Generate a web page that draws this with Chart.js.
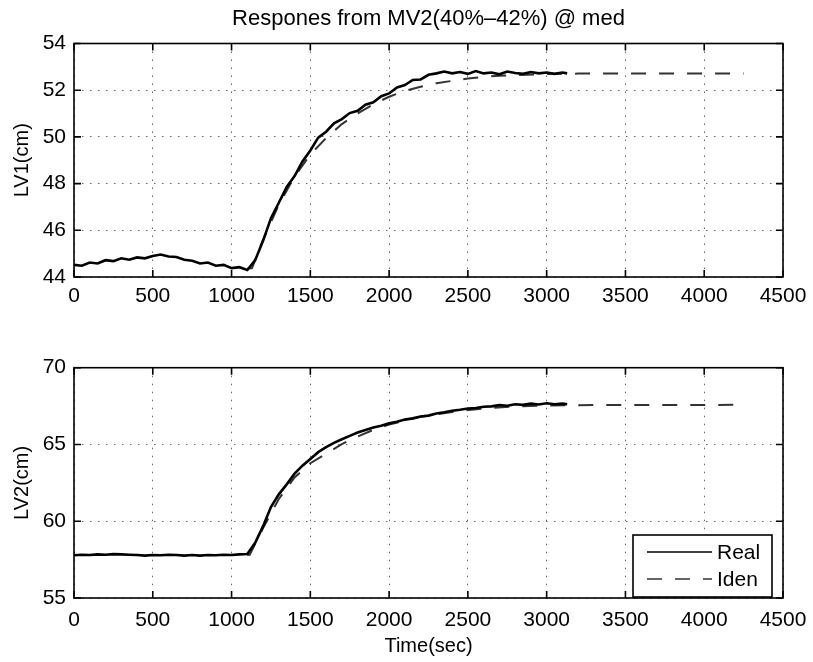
<!DOCTYPE html>
<html><head><meta charset="utf-8">
<script src="https://cdn.jsdelivr.net/npm/chart.js@4.4.0/dist/chart.umd.min.js"></script>
<style>
html,body{margin:0;padding:0;background:#fff;}
#wrap{position:relative;width:813px;height:662px;background:#fff;}
canvas{position:absolute;left:0;}
</style></head><body>
<div id="wrap">
<canvas id="c1" width="813" height="330" style="top:0;width:813px;height:330px"></canvas>
<canvas id="c2" width="813" height="332" style="top:330px;width:813px;height:332px"></canvas>
</div>
<script>
const titleText = 'Respones from MV2(40%\u201342%) @ med';
const xTitle = 'Time(sec)';
const y1Title = 'LV1(cm)';
const y2Title = 'LV2(cm)';
const seriesNames = ['Real', 'Iden'];

const timeReal = [0,50,100,150,200,250,300,350,400,450,500,550,600,650,700,750,800,850,900,950,1000,1050,1100,
  1150,1200,1250,1300,1350,1400,1450,1500,1550,1600,1650,1700,1750,1800,1850,1900,1950,2000,2050,2100,
  2150,2200,2250,2300,2350,2400,2450,2500,2550,2600,2650,2700,2750,2800,2850,2900,2950,3000,3050,3100,3130];

const lv1Real = [44.52,44.48,44.62,44.58,44.72,44.68,44.80,44.74,44.84,44.80,44.90,44.96,44.88,44.86,44.74,44.70,44.58,44.62,44.48,44.52,44.38,44.42,44.30,
  44.72,45.55,46.52,47.18,47.86,48.32,48.95,49.42,49.97,50.22,50.58,50.76,51.02,51.12,51.38,51.48,51.74,51.86,52.12,52.22,
  52.44,52.46,52.66,52.72,52.80,52.72,52.78,52.70,52.82,52.72,52.76,52.68,52.80,52.74,52.70,52.78,52.72,52.76,52.70,52.76,52.72];

const lv2Real = [57.78,57.82,57.80,57.84,57.82,57.86,57.84,57.82,57.80,57.76,57.80,57.78,57.82,57.80,57.76,57.80,57.76,57.80,57.78,57.82,57.80,57.84,57.86,
  58.60,59.68,60.92,61.75,62.40,63.10,63.62,64.06,64.50,64.82,65.10,65.34,65.56,65.78,65.94,66.10,66.22,66.38,66.48,66.62,
  66.70,66.82,66.88,67.02,67.10,67.20,67.26,67.34,67.38,67.46,67.48,67.56,67.52,67.62,67.58,67.66,67.60,67.68,67.62,67.66,67.62];

const timeIden1 = [1100,1130,1200,1300,1400,1500,1600,1700,1800,1900,2000,2100,2200,2300,2400,2500,2600,2700,2800,3000,3200,3500,4000,4250];
const lv1Iden = [44.35,44.38,45.6,47.1,48.3,49.25,49.95,50.55,51.0,51.4,51.72,51.97,52.15,52.3,52.4,52.5,52.57,52.62,52.65,52.69,52.71,52.72,52.72,52.72];

const timeIden2 = [1100,1115,1200,1300,1400,1500,1600,1700,1800,1900,2000,2200,2400,2600,2800,3000,3300,4250];
const lv2Iden = [57.8,57.82,59.55,61.45,62.85,63.78,64.4,65.02,65.52,65.95,66.3,66.8,67.12,67.35,67.48,67.54,67.57,67.58];

const xTicks = [0,500,1000,1500,2000,2500,3000,3500,4000,4500];
const y1Ticks = [44,46,48,50,52,54];
const y2Ticks = [55,60,65,70];

const FONT = 'Liberation Sans, Arial, Helvetica, sans-serif';

function pts(xs, ys) { return xs.map((v, i) => ({x: v, y: ys[i]})); }

const boxPlugin = {
  id: 'matlabBox',
  afterDatasetsDraw(chart) {
    const {ctx, chartArea: a, scales} = chart;
    const x = scales.x, y = scales.y;
    ctx.save();
    ctx.strokeStyle = '#000';
    ctx.lineWidth = 1.6;
    ctx.strokeRect(a.left, a.top, a.right - a.left, a.bottom - a.top);
    const L = 7;
    ctx.beginPath();
    x.ticks.forEach(t => {
      const px = x.getPixelForValue(t.value);
      ctx.moveTo(px, a.bottom); ctx.lineTo(px, a.bottom - L);
      ctx.moveTo(px, a.top); ctx.lineTo(px, a.top + L);
    });
    y.ticks.forEach(t => {
      const py = y.getPixelForValue(t.value);
      ctx.moveTo(a.left, py); ctx.lineTo(a.left + L, py);
      ctx.moveTo(a.right, py); ctx.lineTo(a.right - L, py);
    });
    ctx.stroke();
    ctx.restore();
  }
};

const legendPlugin = {
  id: 'insetLegend',
  afterDraw(chart, args, opts) {
    if (!opts || !opts.show) return;
    const {ctx, chartArea: a} = chart;
    const w = 139, h = 62;
    const x0 = a.right - 11 - w, y0 = a.bottom - 1 - h;
    ctx.save();
    ctx.fillStyle = '#fff';
    ctx.fillRect(x0, y0, w, h);
    ctx.strokeStyle = '#000';
    ctx.lineWidth = 1.6;
    ctx.strokeRect(x0, y0, w, h);
    ctx.font = '21px ' + FONT;
    ctx.textBaseline = 'middle';
    ctx.textAlign = 'left';
    chart.data.datasets.forEach((ds, i) => {
      const yy = y0 + 17 + i * 27;
      ctx.save();
      ctx.strokeStyle = ds.borderColor;
      ctx.lineWidth = 1.6;
      ctx.setLineDash(ds.borderDash || []);
      ctx.beginPath();
      ctx.moveTo(x0 + 14, yy);
      ctx.lineTo(x0 + 79, yy);
      ctx.stroke();
      ctx.restore();
      ctx.fillStyle = '#000';
      ctx.fillText(ds.label, x0 + 84, yy + 1);
    });
    ctx.restore();
  }
};

function makeChart(id, realY, idenX, idenY, yMin, yMax, yTitle, opts) {
  return new Chart(document.getElementById(id), {
    type: 'line',
    data: {
      datasets: [
        {label: seriesNames[0], data: pts(timeReal, realY), borderColor: '#000', borderWidth: 2.6,
         pointRadius: 0, tension: 0, fill: false},
        {label: seriesNames[1], data: pts(idenX, idenY), borderColor: '#333', borderWidth: 2,
         borderDash: [15, 13], pointRadius: 0, tension: 0, fill: false}
      ]
    },
    plugins: [boxPlugin, legendPlugin],
    options: {
      responsive: false,
      animation: false,
      layout: {padding: {left: 0, right: 30, top: opts.padTop, bottom: 0}},
      plugins: {
        legend: {display: false},
        tooltip: {enabled: false},
        title: opts.title ? {display: true, fullSize: false, text: opts.title, color: '#000',
          font: {family: FONT, size: 22, weight: 'normal'}, padding: {top: 6, bottom: 11.1}} : {display: false},
        insetLegend: {show: !!opts.legend}
      },
      scales: {
        x: {
          type: 'linear', min: 0, max: 4500,
          afterBuildTicks: s => { s.ticks = xTicks.map(v => ({value: v})); },
          afterFit: s => { s.height = opts.xHeight; },
          ticks: {color: '#000', font: {family: FONT, size: 21, lineHeight: opts.xLH}, padding: 6, maxRotation: 0, autoSkip: false,
                  callback: v => String(v)},
          grid: {color: '#666', lineWidth: 1, drawTicks: false},
          border: {display: false, dash: [1.5, 6.5]},
          title: opts.xTitle ? {display: true, text: opts.xTitle, color: '#000',
            font: {family: FONT, size: 20}, padding: {top: 0, bottom: 4}} : {display: false}
        },
        y: {
          type: 'linear', min: yMin, max: yMax,
          afterBuildTicks: s => { s.ticks = opts.yTicks.map(v => ({value: v})); },
          afterFit: s => { s.width = 74; },
          ticks: {color: '#000', font: {family: FONT, size: 21}, padding: 8, callback: v => String(v)},
          grid: {color: '#666', lineWidth: 1, drawTicks: false},
          border: {display: false, dash: [1.5, 6.5]},
          title: {display: true, text: yTitle, color: '#000',
            font: {family: FONT, size: 20}, padding: {top: 10, bottom: 0}}
        }
      }
    }
  });
}

makeChart('c1', lv1Real, timeIden1, lv1Iden, 44, 54, y1Title,
  {padTop: 0, xHeight: 53, xLH: 1.3, title: titleText, yTicks: y1Ticks});
makeChart('c2', lv2Real, timeIden2, lv2Iden, 55, 70, y2Title,
  {padTop: 37.7, xHeight: 64, xLH: 1.55, xTitle: xTitle, legend: true, yTicks: y2Ticks});
</script>
</body></html>
